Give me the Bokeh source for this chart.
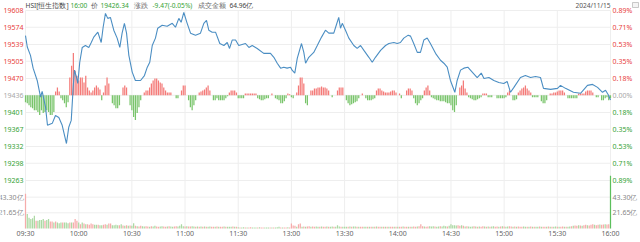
from bokeh.plotting import figure
from bokeh.models import Range1d, ColumnDataSource
from bokeh.core.properties import value
from bokeh.embed import file_html
from bokeh.resources import INLINE

# ---------------- data ----------------
prev_close = 19435.81
last_price = 19426.34
change = -9.47
change_pct = -0.05
turnover = "64.96亿"
date_text = "2024/11/15"
last_time = "16:00"

time_ticks = [0, 30, 60, 90, 120, 150, 180, 210, 240, 270, 300, 330]
time_labels = ["09:30", "10:00", "10:30", "11:00", "11:30", "13:00",
               "13:30", "14:00", "14:30", "15:00", "15:30", "16:00"]

price_ticks = [19608, 19574, 19539, 19505, 19470, 19436, 19401, 19367, 19332, 19298, 19263]
pct_labels = ["0.89%", "0.71%", "0.53%", "0.35%", "0.18%", "0.00%",
              "0.18%", "0.35%", "0.53%", "0.71%", "0.89%"]
vol_ticks = [21.65, 43.30]
vol_labels = ["21.65亿", "43.30亿"]
vol_top = 64.95

# price line (trading minute from 09:30, index points)
line_min = [0, 1, 2.8, 4.3, 6.6, 8.5, 9.4, 11.3, 12.4, 15.1, 16.9, 18.8, 20.7, 23.1, 24.4, 25.8,
            26.9, 27.6, 28.8, 29.5, 30.6, 32, 33.8, 35.7, 37.1, 38.5, 40.8, 42.7, 43.8, 45.1,
            46.4, 47.9, 49.8, 51.7, 53.2, 54.5, 55.8, 57, 58.3, 60.2, 62, 64.9, 67.1, 68.7,
            70.1, 71.5, 73.3, 74.6, 77.1, 79.9, 82.8, 84.6, 86.5, 87.8, 89.3, 91.2, 93.1,
            95.9, 98.7, 100.6, 102.1, 103.4, 105.3, 107.2, 109.6,
            111.9, 113.8, 115.1, 116.6, 118.5, 120.3, 124.1, 126, 127.9, 130.7, 134.4, 138.2,
            140.1, 142, 143.9, 145.7, 147.6, 149.5, 150.4, 151.9, 153.3, 155.7, 157, 158,
            159.8, 162.6, 164.6, 167, 169.2, 171.1, 173.9, 175.3, 176.7, 177.7, 178.7, 180.5,
            182.4, 185.2, 187.1, 189, 190.9, 193.7, 195.6, 197.4, 200.3, 203.1, 205, 207.8,
            209.7, 211.5, 213.4, 215.9, 217.2, 219, 221, 222.8, 224.7, 226.6, 228.4, 231.3,
            234.1, 236, 237.9, 239.7, 242.2, 243.5, 245.4, 247.3, 249.5, 252, 254.8, 257.1,
            258.6, 261.4, 264.2, 267, 269.8, 271.7, 273.6, 275.5, 279.2, 282, 284.9, 287.7,
            290.5, 292.2, 296.2, 300.1, 301.8, 304.6, 309.1, 313.1, 317, 319.9, 322.7, 325.5,
            327.2, 328.9, 330]
line_price = [19557, 19534, 19517, 19491, 19466, 19432, 19444, 19412, 19375, 19379, 19395, 19391,
              19375, 19338, 19371, 19385, 19452, 19487, 19472, 19460, 19503, 19533, 19537, 19533,
              19543, 19554, 19564, 19543, 19574, 19602, 19592, 19594, 19568, 19552, 19533, 19562,
              19582, 19562, 19517, 19483, 19466, 19466, 19476, 19493, 19503, 19537, 19552, 19572,
              19578, 19576, 19582, 19574, 19592, 19584, 19604, 19582, 19562, 19558, 19562, 19582,
              19588, 19568, 19564, 19564, 19541,
              19537, 19543, 19531, 19548, 19548, 19537, 19541, 19533, 19537, 19531, 19521, 19521,
              19513, 19501, 19491, 19493, 19491, 19493, 19487, 19481, 19511, 19541, 19523, 19501,
              19513, 19523, 19537, 19554, 19568, 19562, 19562, 19578, 19594, 19572, 19582, 19568,
              19552, 19537, 19531, 19537, 19527, 19513, 19503, 19513, 19527, 19537, 19541, 19543,
              19541, 19543, 19552, 19558, 19556, 19541, 19523, 19523, 19548, 19552, 19541, 19521,
              19507, 19501, 19493, 19466, 19442, 19466, 19487, 19491, 19493, 19483, 19472, 19481,
              19470, 19472, 19466, 19462, 19460, 19464, 19442, 19452, 19472, 19476, 19472, 19474,
              19472, 19450, 19448, 19450, 19456, 19450, 19442, 19440, 19456, 19458, 19452, 19442,
              19446, 19436, 19426.34]

# per-minute histogram (index points, relative to previous close)
hist_values = (
    [-14, -16, -20, -24, -26, -30, -30, -34, -40, -30, -36, -34, -30, -34, -40, -40, -34]
    + [8, 16, 8, -6, -10, -16, -24, -14]
    + [36, 60, 86, 50, 40, 30, 36, 36, 26, 40, 16, 10, 6, 10, 16, 20, 16, 12, -10, 6, 20, 36, 24]
    + [0, -16, -20, -26, -26, -20]
    + [0, 16, 20, 16, 0]
    + [-20, -30, -44, -50, -36, -24, -10]
    + [0, 6, 10, 10, 16, 24, 30, 34, 34, 30, 26, 24, 16, 10, 6, 6, 6, 0, 0]
    + [-6, -6, 0]
    + [10, 20, 20, 0]
    + [-10, -24, -30, -20, -10, 0]
    + [6, 8, 10, 12, 16, 20, 10, 0]
    + [-10, -10, -6, -10, -10, -10, -10, -6, -2]
    + [6, 10, 10, 10, 6]
    + [-6, -6, -6, -6]
    + [4, 4, 4, 4, 4, 4, 4]
    + [-6, -8, -10, -10, -8, -6, -6]
    + [0, 4, 0]
    + [-6, -8, -10, -16, -16, -12, -6]
    + [4, 2, -4, -6, 0, 6, 20, 36, 36, 24]
    + [-16, -20, 0]
    + [10, 10, 14, 14, 16, 16, 18, 16, 16, 14, 10]
    + [0, -4, 0, 0]
    + [10, 16, 16, 16]
    + [0]
    + [-10, -16, -20, -18, -16, -14, -12, -6]
    + [0, 4, 0]
    + [-6, -10, -10, -10, -8, -6]
    + [10, 14, 14, 10, 8, 6, 6, 6]
    + [8, 10, 10, 6, 0]
    + [4, -6, 0, 0]
    + [10, 14, 14, 10]
    + [-6, -16, -20, -16, -10, -6]
    + [10, 16, 20, 10]
    + [-4, -6, -8, -10, -10, -12, -12, -12, -14, -16, -16, -20, -30, -34, -20]
    + [0]
    + [16, 20, 30, 14, 6]
    + [-4, -6, -8, -10, -10, -8, -6, -4]
    + [4, 4, 4]
    + [-4, -4, -4]
    + [0, 0]
    + [-6, -6, -6, -6, -6, -4]
    + [6, 10, 0]
    + [-10, -10, -8]
    + [6, 10, 14, 16, 20, 14, 10, 6]
    + [-4, -4, -4, -4]
    + [0]
    + [-12, -16, -16, -10]
    + [0]
    + [4, 4, 6, 6, 8, 10, 10, 10, 6]
    + [0]
    + [-6, -6, -6, -6, -6, -6]
    + [4, 4, 4, 4]
    + [8, 10, 10, 10, 6]
    + [0]
    + [-4, -4]
    + [0]
    + [-10, -10, -6, -4]
    + [-10, -6]
)

# per-minute turnover (亿) and direction (r = up, g = down)
volume = (
    [48, 20, 15, 13, 14, 17.6, 10.6, 10.6, 11.6, 11.6, 13, 10.6, 11.6, 13, 9.7, 9.7, 8.3, 9.7, 8.3,
     7.4, 8.3, 8.3, 8.3, 8.3, 7.4, 8.3, 8.3, 8.3, 13, 10.6, 8.3, 6, 8.3, 6.9, 6, 6, 5.1, 6.9, 6,
     5.1, 5.1, 5.1, 4.6, 4.6, 5.1, 6, 5.1, 6.9, 6.9, 4.6, 4.6, 5.1, 4.6, 4.6, 6, 4]
    + [3.7, 4.6, 3.7, 4.2, 3.7]
    + [7.4]
    + [3.7, 3.2, 2.8, 3.7, 3.2, 2.8, 3.2, 2.8, 2.3, 3.2, 2.8, 3.7, 2.8, 2.3, 2.8, 3.2, 2.8, 2.3,
       2.8, 3.2, 2.8, 2.3, 2.8, 3.2, 2.8, 3.7]
    + [6]
    + [3.2, 2.8, 3.2, 2.8, 2.8, 3.2, 2.8, 2.3, 2.8, 2.3, 2.8]
    + [2.5, 2.8, 2.3, 2.5, 2.8, 2.3, 2.5, 2.3, 2.8, 2.5, 2.3, 2.5, 2.8, 2.3, 2.5, 2.3, 2.5, 2.8,
       2.3, 2.5]
    + [1.8, 1.5, 1.4, 1.8, 1.5, 1.4, 1.5, 1.8, 1.4, 1.5, 1.4, 1.5, 1.8, 1.4, 1.5, 1.4, 1.4, 1.5,
       1.4, 1.4, 1.5, 1.4, 1.8, 2.3, 1.5, 1.4, 1.5, 1.4, 1.8, 1.5]
    + [7, 4, 3.7, 2.5, 6, 6.9, 2.3, 2.8, 2.5, 2.8, 3.2, 2.5, 2.8, 2.5, 2.8, 2.3]
    + [2.5, 2.8, 2.3, 2.5, 2.8, 2.5, 2.3, 2.8, 2.5, 2.3, 4.6, 2.8, 2.5, 2.3, 2.5, 2.3, 2.5, 2.8,
       2.3, 2.8, 2.8, 2.5, 2.3, 2.5, 2.3, 2.5, 2.3, 2.5, 2.3, 2.5, 2.3, 2.5, 2.8, 2.3]
    + [2.3, 2.5, 2.3, 2.3, 2.5, 2.3, 2.3, 2.5, 2.3, 2.5, 2.3, 2.3, 2.5, 2.8, 2.3, 2.5, 2.3, 2.3,
       2.5, 2.8, 2.5, 2.8, 3.2]
    + [6, 3.2, 2.8, 2.5]
    + [2.8, 3.2, 2.8, 3.2, 2.8, 2.5, 2.8, 3.2, 2.8, 3.7, 3.2, 2.8, 3.7]
    + [6, 4.6]
    + [4.6, 4.2, 4.6, 3.7, 4.6, 3.7]
    + [2.8, 3.2, 2.8, 2.5, 2.8, 3.2, 2.8, 2.5, 2.8, 2.5, 3.2, 2.8, 2.5, 2.8, 2.5, 2.8, 3.2, 2.5,
       2.8, 2.5, 2.8, 3.2, 2.8, 2.5, 2.8, 3.2, 2.8, 2.5, 2.8, 2.5, 2.8]
    + [2.5, 2.3, 2.8, 2.5, 2.3, 2.5, 2.8, 2.3, 2.5, 2.3, 2.5, 2.8, 2.3, 2.5, 2.3, 2.5, 2.8, 2.5,
       2.3, 2.5, 2.8, 2.3, 2.5, 2.3, 2.8, 2.5, 2.3, 2.5, 2.8, 3.2]
    + [3.7, 4.2, 3.7, 4.6, 4.2, 3.7, 4.6, 5.1, 4.6, 4.2, 5.1, 6, 5.1, 4.6, 5.1, 5.6, 5.1, 5.6, 6,
       5.6, 6]
    + [73]
)
volume_dir = ("rgggggrggggrggrrgrgggrgggrgrrrgrgrgrrrrggrggrrgrrggggrgr"
              + "grgrg" + "g" + "rgrrggrrgrggrrggrrgrggrrgg" + "g" + "grgrrggrgrg"
              + "rgrggrrgrgrrgrgggrgr" + "grggrgrrgggrgrrgggrgrgggrgrrgr"
              + "rrrgrrgrgrrgrrgg" + "rgrrgrggrgggrgggrgrggrgrrggrgrgrgr"
              + "rgrgrgrrgrgrrgrrgrgrrgr" + "rrgr" + "rgggrggrgggrg" + "gg" + "ggrrgr"
              + "grgggrgrgrrgrgrggrrgrgrggrrgrgr" + "rrggrgrgrggrgrrgrgrggrgrrgrggr"
              + "grrgrgrrgrrrgrrgrrgrr" + "g")

# ---------------- layout (pixels of the 640x242 page) ----------------
W, H = 640, 242
PLOT_L, PLOT_R = 25, 610          # x of 09:30 and 16:00
PRICE_T, PRICE_B = 10, 180        # y of top / bottom price tick
VOL_B, VOL_T = 228, 181           # y of zero turnover / vol_top
HEAD_Y, TIME_Y = 5, 233

FONT = "Noto Sans"
FS = "7px"
FS_HEAD = "6.6px"
RED = "#e8413e"
GREEN = "#35a335"
GRAY_LBL = "#a8a8a8"
GRID = "#eeeeee"

price_hi, price_lo = price_ticks[0], price_ticks[-1]
K = (price_hi - price_lo) / float(PRICE_B - PRICE_T)        # index points per pixel
M = (time_ticks[-1] - time_ticks[0]) / float(PLOT_R - PLOT_L)  # minutes per pixel
R = vol_top / float(VOL_B - VOL_T)                             # turnover per pixel


def py(px):
    return price_hi - (px - PRICE_T) * K


def mx(px):
    return (px - PLOT_L) * M


p = figure(width=W, height=H, output_backend="svg", toolbar_location=None,
           x_range=Range1d(mx(0), mx(W)), y_range=Range1d(py(H), py(0)),
           x_axis_location=None, y_axis_location=None, min_border=0)
p.extra_y_ranges = {"vol": Range1d(-(H - VOL_B) * R, VOL_B * R)}
p.outline_line_color = None
p.grid.visible = False
p.background_fill_color = "white"
p.border_fill_color = "white"

# grid lines
p.segment(x0=[time_ticks[0]] * len(price_ticks), x1=[time_ticks[-1]] * len(price_ticks),
          y0=price_ticks, y1=price_ticks, line_color=GRID, line_width=1)
p.segment(x0=time_ticks, x1=time_ticks, y0=[price_hi] * len(time_ticks),
          y1=[py(VOL_B)] * len(time_ticks), line_color=GRID, line_width=1)
p.segment(x0=[time_ticks[0]] * 2, x1=[time_ticks[-1]] * 2, y0=vol_ticks, y1=vol_ticks,
          line_color=GRID, line_width=1, y_range_name="vol")

# histogram bars around previous close
minutes = list(range(len(hist_values)))
h_top = [prev_close + v for v in hist_values]
h_col = ["#f47a78" if v > 0 else "#78c46a" for v in hist_values]
hsrc = ColumnDataSource(dict(x=minutes, top=h_top, color=h_col))
p.vbar(x="x", top="top", bottom=prev_close, width=0.7, color="color", line_color=None,
       source=hsrc)

# volume bars
vdir = (volume_dir + "g" * len(volume))[:len(volume)]
v_col = ["#f6acab" if d == "r" else "#acd9a3" for d in vdir]
v_col[-1] = "#5cbf5c"
vsrc = ColumnDataSource(dict(x=list(range(len(volume))), top=volume, color=v_col))
p.vbar(x="x", top="top", bottom=0, width=0.7, color="color", line_color=None,
       source=vsrc, y_range_name="vol")

# price line
p.line(line_min, line_price, line_color="#4b8ec3", line_width=1.1)


def texts(xs, ys, ts, cs, align, y_range_name="default", size=FS):
    src = ColumnDataSource(dict(x=xs, y=ys, t=ts, c=cs))
    p.text(x="x", y="y", text="t", text_color="c", source=src, text_align=align,
           text_baseline="middle", text_font=value(FONT), text_font_size=value(size),
           y_range_name=y_range_name)


# left / right price labels
n_up = sum(1 for v in price_ticks if v > prev_close + 1)
lbl_cols = [RED] * n_up + [GRAY_LBL] + [GREEN] * (len(price_ticks) - n_up - 1)
texts([mx(PLOT_L - 2)] * len(price_ticks), price_ticks, [str(v) for v in price_ticks],
      lbl_cols, "right")
texts([mx(PLOT_R + 2)] * len(price_ticks), price_ticks, pct_labels, lbl_cols, "left")

# turnover labels
texts([mx(PLOT_L - 2)] * 2, vol_ticks, vol_labels, ["#888888"] * 2, "right", "vol")
texts([mx(PLOT_R + 2)] * 2, vol_ticks, vol_labels, ["#888888"] * 2, "left", "vol")

# time labels
texts(time_ticks, [py(TIME_Y)] * len(time_ticks), time_labels, ["#666666"] * len(time_ticks),
      "center")

# header
head_txt = ["HSI[恒生指数]", last_time, "价", "%.2f" % last_price, "涨跌",
            "%.2f(%.2f%%)" % (change, change_pct), "成交金额", turnover]
head_px = [25, 70, 90, 100, 133, 152, 197, 229]
head_col = ["#444444", GREEN, "#666666", GREEN, "#666666", GREEN, "#666666", "#444444"]
texts([mx(v) for v in head_px], [py(HEAD_Y)] * len(head_txt), head_txt, head_col, "left",
      size=FS_HEAD)
texts([time_ticks[-1]], [py(HEAD_Y)], [date_text], ["#555555"], "right", size=FS_HEAD)

# small settings icon at the top right corner
p.quad(left=[mx(632)], right=[mx(638)], top=[py(2)], bottom=[py(7)],
       fill_color="#f4f4f4", line_color="#bbbbbb", line_width=0.8)

open("out.html", "w").write(file_html(p, INLINE))
